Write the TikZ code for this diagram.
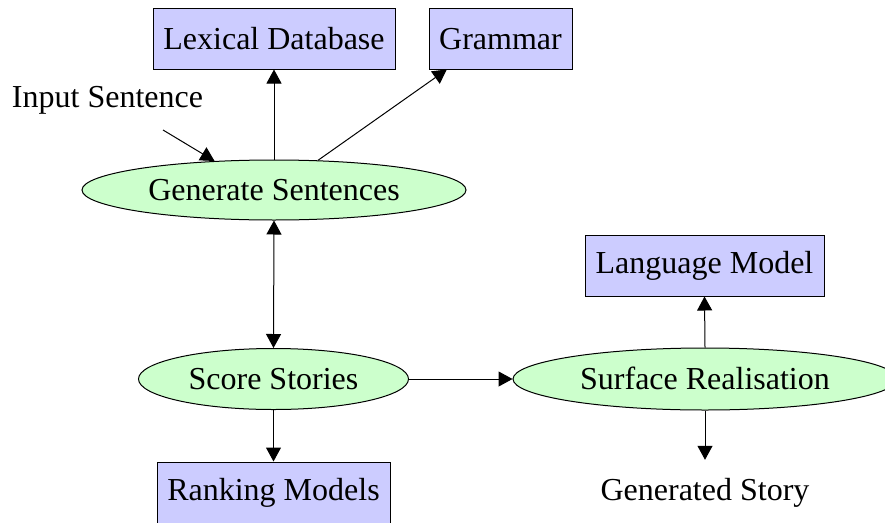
\documentclass[tikz,border=0pt]{standalone}
\usepackage{fontspec}
\setmainfont{Liberation Serif}
\usetikzlibrary{shapes.geometric,arrows.meta}
\definecolor{boxfill}{RGB}{204,204,255}
\definecolor{ovalfill}{RGB}{204,255,204}
\begin{document}
\begin{tikzpicture}[x=1pt,y=-1pt,
  every node/.style={font=\fontsize{32}{38}\selectfont, inner sep=0pt},
  resource/.style={draw=black, line width=1pt, fill=boxfill, minimum height=61pt,
                   text height=22pt, text depth=0pt},
  process/.style={ellipse, draw=black, line width=1pt, fill=ovalfill, minimum height=60pt,
                  text height=21pt, text depth=0pt},
  textlabel/.style={anchor=base, text height=22pt, text depth=0pt},
  tip/.tip={Triangle[length=14pt,width=15pt]},
  flow/.style={line width=1pt, -tip},
  twoway/.style={line width=1pt, tip-tip}]

  % canvas, white background, clipped to the page
  \path[use as bounding box, clip] (0,0) rectangle (885,522);
  \fill[white] (0,0) rectangle (885,522);

  % resources
  \node[resource, minimum width=242pt] (lex)  at (274,38.5)    {Lexical Database};
  \node[resource, minimum width=143pt] (gram) at (500.5,38.5)  {Grammar};
  \node[resource, minimum width=239pt, text height=15pt] (lm)   at (704.5,265.5) {Language Model};
  \node[resource, minimum width=233pt, text height=15pt] (rank) at (273.5,492.5) {Ranking Models};

  % processes
  \node[process, minimum width=384pt] (gen) at (274,190) {Generate Sentences};
  \node[process, minimum width=270pt, minimum height=61pt] (score) at (273.5,379) {Score Stories};
  \node[process, minimum width=384pt, minimum height=62pt] (surf)  at (705,379)   {Surface Realisation};

  % input and output
  \node[textlabel] (input) at (107.5,107) {Input Sentence};
  \coordinate (inputend) at (163,130);
  \node[textlabel] (story) at (705,500) {Generated Story};

  % connectors
  \draw[flow] (inputend) -- (gen.154);
  \draw[flow] (gen.north) -- (lex.south);
  \draw[flow] (gen.34) -- (gram.210);
  \draw[twoway] (gen.south) -- (score.north);
  \draw[flow] (score.south) -- (rank.north);
  \draw[flow] (score.east) -- (surf.west);
  \draw[flow] (surf.north) -- (lm.south);
  \draw[flow, shorten >=18pt] (surf.south) -- (story.north);
\end{tikzpicture}
\end{document}
